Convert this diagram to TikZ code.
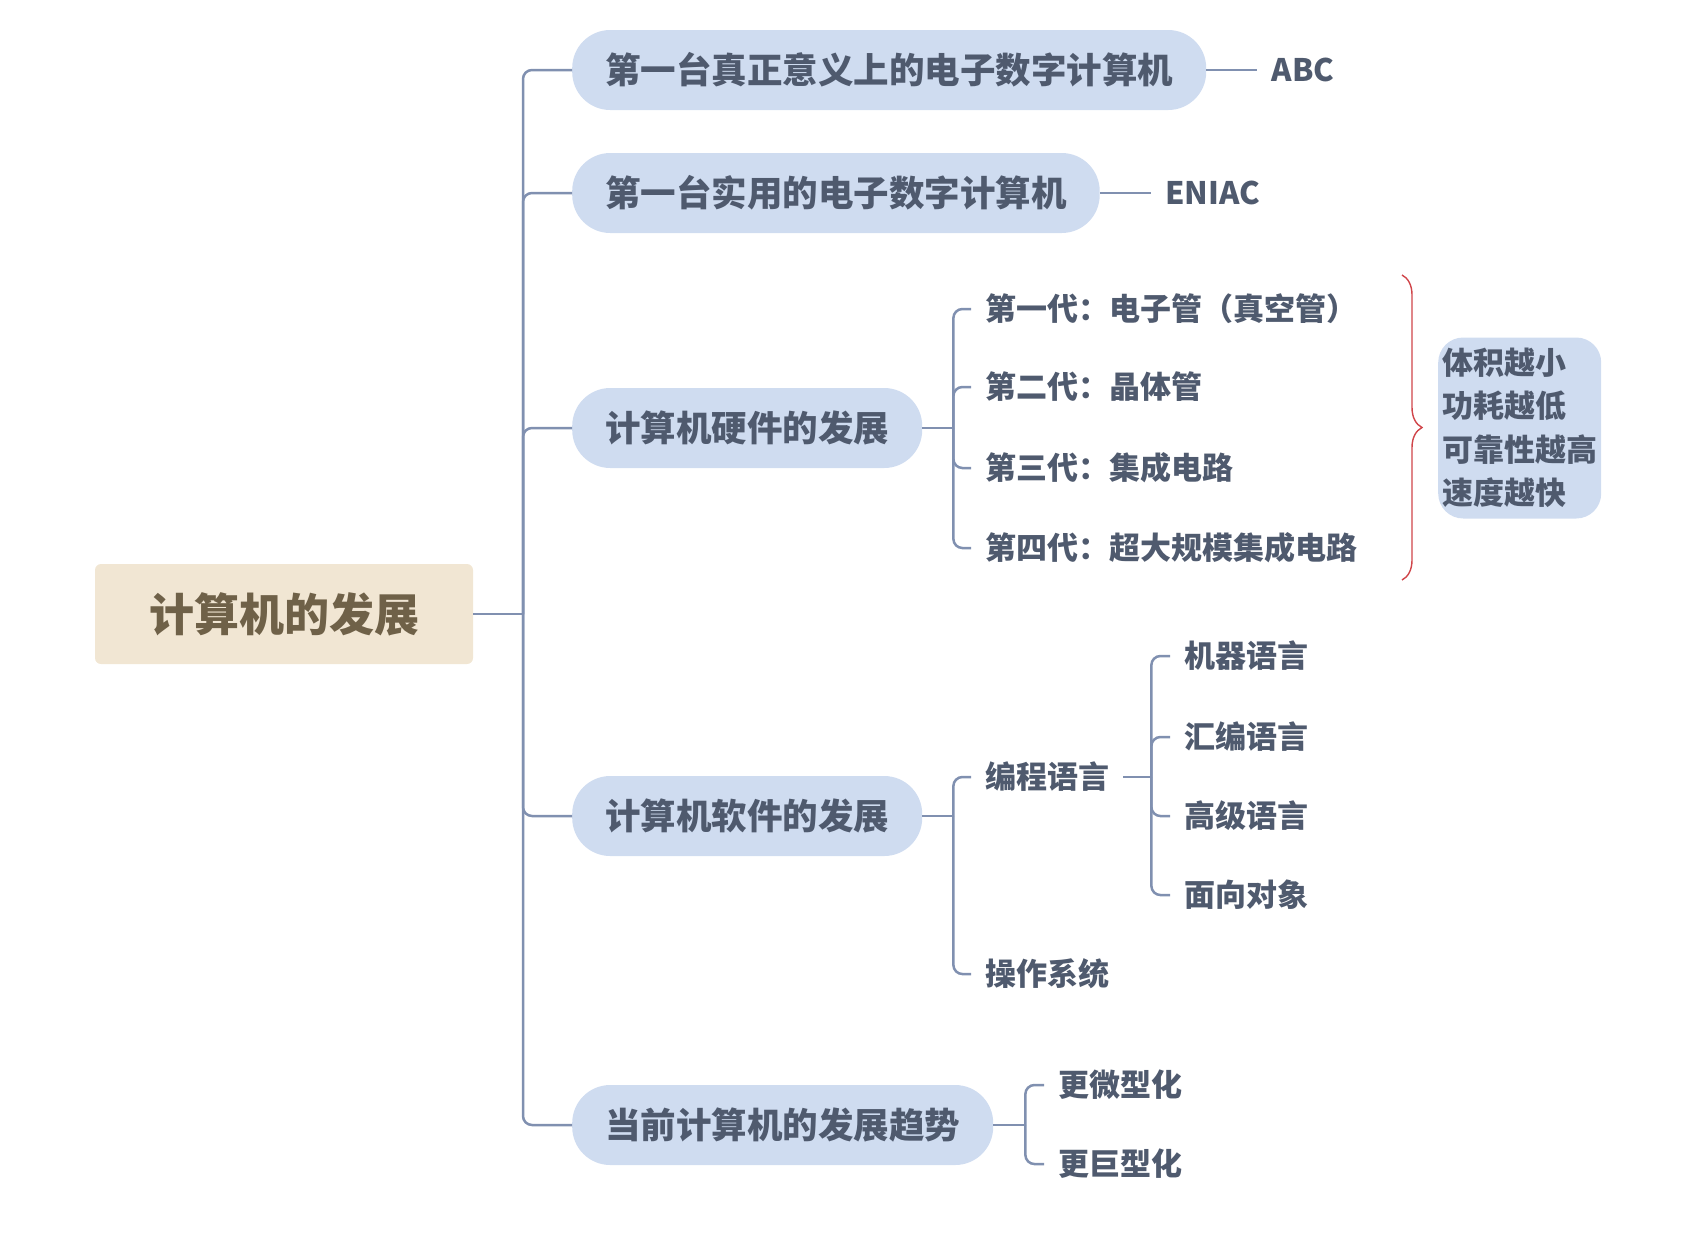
\documentclass[tikz,border=0pt]{standalone}
\usepackage{fontspec}
\setmainfont{Noto Sans CJK SC}
\usetikzlibrary{positioning,decorations.pathreplacing}

\definecolor{linkgray}{HTML}{8090B0}
\definecolor{pillblue}{HTML}{CFDCF0}
\definecolor{inkslate}{HTML}{4F5A6E}
\definecolor{rootsand}{HTML}{F1E6D3}
\definecolor{rootink}{HTML}{6F6148}
\definecolor{bracered}{HTML}{D0454A}

\tikzset{
  rootbox/.style={fill=rootsand, rounded corners=6pt, minimum width=378pt, minimum height=100pt,
    font=\fontsize{45}{50}\selectfont\bfseries, text=rootink},
  topic/.style={fill=pillblue, rounded corners=38pt, minimum height=80pt, inner xsep=33pt,
    anchor=west, font=\fontsize{35.5}{40}\selectfont\bfseries, text=inkslate},
  leaf/.style={inner xsep=14pt, inner ysep=2pt, anchor=west,
    font=\fontsize{31}{36}\selectfont\bfseries, text=inkslate},
  sumbox/.style={fill=pillblue, rounded corners=25pt, inner xsep=4pt, minimum height=181pt,
    anchor=west, align=left, font=\fontsize{31}{43.5}\selectfont\bfseries, text=inkslate},
  link/.style={draw=linkgray, line width=2.5pt, rounded corners=9pt},
}

\begin{document}
\begin{tikzpicture}[x=1pt,y=-1pt]
\useasboundingbox (0,0) rectangle (1702,1232);

% root and main topics
\node[rootbox] (root) at (284,614) {计算机的发展};
\node[topic] (abcq) at (572,70) {第一台真正意义上的电子数字计算机};
\node[topic] (eniacq) at (572,193) {第一台实用的电子数字计算机};
\node[topic] (hw) at (572,428) {计算机硬件的发展};
\node[topic] (sw) at (572,816) {计算机软件的发展};
\node[topic] (trend) at (572,1125) {当前计算机的发展趋势};

\coordinate (trunk) at (523,614);
\draw[link] (root.east) -- (trunk);
\foreach \t in {abcq,eniacq,hw,sw,trend}
  \draw[link] (trunk) |- (\t.west);

% first machines
\node[leaf, right=51pt of abcq] (abc) {ABC};
\node[leaf, right=51pt of eniacq] (eniac) {ENIAC};
\draw[link] (abcq.east) -- (abc.west);
\draw[link] (eniacq.east) -- (eniac.west);

% hardware generations
\coordinate (hwj) at ([xshift=31pt]hw.east);
\node[leaf] (gen1) at (971,309) {第一代：电子管（真空管）};
\node[leaf] (gen2) at (971,387) {第二代：晶体管};
\node[leaf] (gen3) at (971,468) {第三代：集成电路};
\node[leaf] (gen4) at (971,548) {第四代：超大规模集成电路};
\draw[link] (hw.east) -- (hwj);
\foreach \g in {gen1,gen2,gen3,gen4}
  \draw[link] (hwj) |- (\g.west);

\draw[bracered, line width=1.4pt, decorate, decoration={brace, amplitude=20pt}]
  (1402,275) -- (1402,580);
\node[sumbox] (gain) at (1438,428) {体积越小\\功耗越低\\可靠性越高\\速度越快};

% software
\coordinate (swj) at ([xshift=31pt]sw.east);
\node[leaf] (lang) at (971,777) {编程语言};
\node[leaf] (os) at (971,974) {操作系统};
\draw[link] (sw.east) -- (swj);
\foreach \s in {lang,os}
  \draw[link] (swj) |- (\s.west);

\coordinate (langj) at ([xshift=28pt]lang.east);
\node[leaf] (mach) at (1170,656) {机器语言};
\node[leaf] (asm) at (1170,737) {汇编语言};
\node[leaf] (high) at (1170,816) {高级语言};
\node[leaf] (oop) at (1170,895) {面向对象};
\draw[link] (lang.east) -- (langj);
\foreach \l in {mach,asm,high,oop}
  \draw[link] (langj) |- (\l.west);

% trends
\coordinate (trj) at ([xshift=32pt]trend.east);
\node[leaf] (micro) at (1044,1085) {更微型化};
\node[leaf] (huge) at (1044,1164) {更巨型化};
\draw[link] (trend.east) -- (trj);
\foreach \m in {micro,huge}
  \draw[link] (trj) |- (\m.west);
\end{tikzpicture}
\end{document}
